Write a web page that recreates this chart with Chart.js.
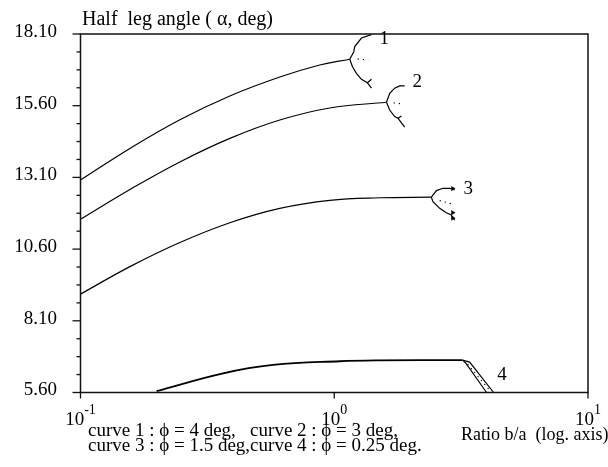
<!DOCTYPE html>
<html>
<head>
<meta charset="utf-8">
<script src="https://cdn.jsdelivr.net/npm/chart.js@4.4.0/dist/chart.umd.min.js"></script>
<style>
  html, body { margin: 0; padding: 0; background: #fff; }
  #wrap { width: 608px; height: 467px; position: relative; }
</style>
</head>
<body>
<div id="wrap"><canvas id="chart" width="608" height="467"></canvas></div>
<script>
// axis ticks
const xTickValues = [0.1, 1, 10];
const xTickExponents = ['-1', '0', '1'];
const yTickValues = [5.6, 8.1, 10.6, 13.1, 15.6, 18.1];
const yTickLabels = ['5.60', '8.10', '10.60', '13.10', '15.60', '18.10'];

// main curves (b/a, half leg angle)
const curve1X = [0.1, 0.1566, 0.2464, 0.3878, 0.6101, 0.8768, 1.151];
const curve1Y = [13.01, 14.11, 15.11, 15.94, 16.60, 17.02, 17.22];
const curve2X = [0.1, 0.1566, 0.2464, 0.3878, 0.6101, 0.960, 1.606];
const curve2Y = [11.64, 12.68, 13.64, 14.46, 15.10, 15.52, 15.72];
const curve3X = [0.1, 0.1566, 0.2464, 0.3878, 0.6101, 0.960, 1.51, 2.414];
const curve3Y = [9.03, 9.99, 10.83, 11.52, 12.02, 12.30, 12.39, 12.41];
const curve4X = [0.1995, 0.365, 0.574, 1.051, 1.5, 3.205];
const curve4Y = [5.65, 6.27, 6.56, 6.69, 6.72, 6.73];

// branches at the end of each curve
const c1UpX = [1.151, 1.193, 1.204, 1.28, 1.402];
const c1UpY = [17.22, 17.47, 17.66, 17.96, 18.08];
const c1LowX = [1.151, 1.18, 1.223, 1.28, 1.351, 1.402, 1.351, 1.402];
const c1LowY = [17.22, 16.96, 16.73, 16.52, 16.40, 16.52, 16.40, 16.21];
const c1DotX = [1.237, 1.36];
const c1DotY = [17.23, 17.19];

const c2UpX = [1.606, 1.654, 1.73, 1.811, 1.895];
const c2UpY = [15.72, 16.03, 16.21, 16.29, 16.29];
const c2LowX = [1.606, 1.654, 1.73, 1.784, 1.839, 1.784, 1.895];
const c2LowY = [15.72, 15.45, 15.22, 15.16, 15.24, 15.16, 14.85];
const c2DotX = [1.715, 1.828];
const c2DotY = [15.70, 15.67];

const c3UpX = [2.414, 2.526, 2.682, 2.849, 2.982];
const c3UpY = [12.41, 12.64, 12.72, 12.72, 12.66];
const c3LowX = [2.414, 2.449, 2.603, 2.765, 2.893, 2.982];
const c3LowY = [12.41, 12.25, 12.02, 11.87, 11.79, 11.61];
const c3DotX = [2.603, 2.928];
const c3DotY = [12.29, 12.17];
const c3MarkX = [2.93, 2.93, 2.93];
const c3MarkY = [12.71, 11.87, 11.68];

const c4AX = [3.205, 3.416, 4.246];
const c4AY = [6.73, 6.66, 5.60];
const c4BX = [3.205, 3.295, 3.984];
const c4BY = [6.73, 6.63, 5.60];
const c4DotX = [3.355, 4.058];
const c4DotY = [6.59, 5.72];

// curve numbers
const curveLabels = ['1', '2', '3', '4'];
const curveLabelX = [1.574, 2.122, 3.37, 4.585];
const curveLabelY = [17.94, 16.43, 12.70, 6.21];

const legendLines = [
  'curve 1 : \u03d5 = 4 deg,   curve 2 : \u03d5 = 3 deg,',
  'curve 3 : \u03d5 = 1.5 deg,curve 4 : \u03d5 = 0.25 deg.'
];

const pts = (xs, ys) => xs.map((x, i) => ({ x: x, y: ys[i] }));

const solid = (xs, ys, w, tension) => ({
  data: pts(xs, ys),
  borderColor: '#000',
  borderWidth: w,
  pointRadius: 0,
  tension: tension,
  fill: false
});
const dotted = (xs, ys) => ({
  data: pts(xs, ys),
  borderColor: '#000',
  borderWidth: 1.2,
  borderDash: [1.2, 4],
  pointRadius: 0,
  tension: 0,
  fill: false
});

const serif = '"Liberation Serif", "DejaVu Serif", serif';

const decorations = {
  id: 'decorations',
  afterDraw(chart) {
    const ctx = chart.ctx;
    const a = chart.chartArea;
    const xs = chart.scales.x, ys = chart.scales.y;
    ctx.save();
    ctx.strokeStyle = '#111';
    ctx.lineWidth = 1.5;
    ctx.strokeRect(a.left, a.top, a.right - a.left, a.bottom - a.top);

    // y ticks: 4 minor steps per labelled step
    ctx.lineWidth = 1.3;
    for (let i = 0; i <= 20; i++) {
      const v = 5.6 + i * 0.625;
      const py = ys.getPixelForValue(v);
      const len = i % 4 === 0 ? 8 : 4;
      ctx.beginPath();
      ctx.moveTo(a.left - len, py);
      ctx.lineTo(a.left, py);
      ctx.stroke();
    }
    ctx.fillStyle = '#000';
    ctx.font = '19px ' + serif;
    ctx.textAlign = 'right';
    ctx.textBaseline = 'middle';
    yTickValues.forEach((v, i) => {
      ctx.fillText(yTickLabels[i], 57, ys.getPixelForValue(v) - 2);
    });

    // x ticks with powers of ten
    xTickValues.forEach((v, i) => {
      const px = xs.getPixelForValue(v);
      ctx.beginPath();
      ctx.moveTo(px, a.bottom);
      ctx.lineTo(px, a.bottom + 6);
      ctx.stroke();
      ctx.font = '19px ' + serif;
      const w1 = ctx.measureText('10').width;
      ctx.font = '14px ' + serif;
      const w2 = ctx.measureText(xTickExponents[i]).width;
      const x0 = px - (w1 + w2) / 2;
      ctx.textAlign = 'left';
      ctx.textBaseline = 'alphabetic';
      ctx.font = '19px ' + serif;
      ctx.fillText('10', x0, 425);
      ctx.font = '14px ' + serif;
      ctx.fillText(xTickExponents[i], x0 + w1, 414);
    });

    // titles
    ctx.font = '20px ' + serif;
    ctx.textAlign = 'left';
    ctx.fillText('Half  leg angle ( \u03b1, deg)', 82, 25);
    ctx.font = '18px ' + serif;
    ctx.fillText('Ratio b/a  (log. axis)', 461, 440);
    ctx.font = '19px ' + serif;
    ctx.fillText(legendLines[0], 88, 436);
    ctx.fillText(legendLines[1], 88, 451);

    // curve numbers
    ctx.font = '19px ' + serif;
    ctx.textAlign = 'center';
    ctx.textBaseline = 'middle';
    curveLabels.forEach((t, i) => {
      ctx.fillText(t, xs.getPixelForValue(curveLabelX[i]), ys.getPixelForValue(curveLabelY[i]));
    });
    ctx.restore();
  }
};

new Chart(document.getElementById('chart'), {
  type: 'line',
  data: {
    datasets: [
      solid(curve1X, curve1Y, 1.2, 0.4),
      solid(curve2X, curve2Y, 1.2, 0.4),
      solid(curve3X, curve3Y, 1.2, 0.4),
      solid(curve4X, curve4Y, 1.8, 0.4),
      solid(c1UpX, c1UpY, 1.2, 0),
      solid(c1LowX, c1LowY, 1.2, 0),
      dotted(c1DotX, c1DotY),
      solid(c2UpX, c2UpY, 1.2, 0),
      solid(c2LowX, c2LowY, 1.2, 0),
      dotted(c2DotX, c2DotY),
      solid(c3UpX, c3UpY, 1.2, 0),
      solid(c3LowX, c3LowY, 1.2, 0),
      dotted(c3DotX, c3DotY),
      {
        type: 'scatter',
        data: pts(c3MarkX, c3MarkY),
        pointStyle: 'triangle',
        rotation: 90,
        pointRadius: 2.5,
        backgroundColor: '#000',
        borderColor: '#000',
        borderWidth: 0.5
      },
      solid(c4AX, c4AY, 1.2, 0),
      solid(c4BX, c4BY, 1.2, 0),
      dotted(c4DotX, c4DotY)
    ]
  },
  options: {
    responsive: false,
    animation: false,
    layout: { padding: { top: 34, left: 0, right: 20, bottom: 0 } },
    plugins: { legend: { display: false }, tooltip: { enabled: false } },
    scales: {
      x: {
        type: 'logarithmic',
        min: 0.1,
        max: 10,
        grid: { display: false },
        border: { display: false },
        ticks: { display: false },
        afterFit(scale) { scale.height = 74.5; }
      },
      y: {
        type: 'linear',
        min: 5.6,
        max: 18.1,
        grid: { display: false },
        border: { display: false },
        ticks: { display: false },
        afterFit(scale) { scale.width = 80.5; }
      }
    }
  },
  plugins: [decorations]
});
</script>
</body>
</html>
